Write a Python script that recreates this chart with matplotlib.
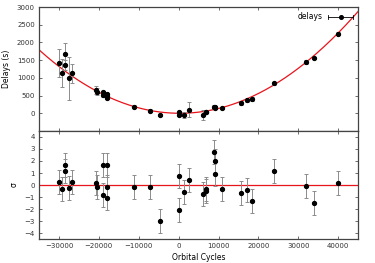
import numpy as np
import matplotlib
matplotlib.use('Agg')
import matplotlib.pyplot as plt
from matplotlib.lines import Line2D
from matplotlib.legend_handler import HandlerBase

# orbital cycle of each timing
cycles = [-30000, -29200, -28400, -28400, -27570, -26800,
          -20630, -20550, -18970, -18970, -17970, -17970, -17970,
          -11280, -7270, -4760,
          0, 0, 1450, 2700,
          6020, 6850, 6850, 8850, 9020, 9190, 10860,
          15620, 17040, 18300, 23810, 32000, 33830, 39930]
# delays (s)
delays = [1420, 1146, 1682, 1352, 986, 1127,
          648, 610, 590, 505, 540, 475, 445,
          185, 78, -55,
          25, -50, -45, 95,
          -50, 45, 50, 189, 180, 160, 150,
          300, 366, 405, 845, 1448, 1560, 2254]
delay_err = [395, 400, 300, 140, 600, 270,
             110, 100, 33, 38, 36, 30, 34,
             40, 50, 30,
             33, 24, 80, 210,
             130, 35, 35, 31, 35, 50, 32,
             58, 40, 47, 43, 55, 40, 30]
# residuals in sigma
resid = [0.25, -0.3, 1.65, 1.2, -0.22, 0.22,
         0.15, -0.15, 1.65, -0.8, 1.65, -0.2, -1.07,
         -0.2, -0.15, -3.03,
         0.75, -2.1, -0.55, 0.4,
         -0.74, -0.5, -0.35, 2.73, 2.0, 0.9, -0.33,
         -0.65, -0.45, -1.3, 1.15, -0.05, -1.52, 0.17]
resid_err = [1.0] * len(resid)

# quadratic fit: a*(E - e0)^2 + c
fit_a, fit_e0, fit_c = 1.44e-6, 300, 0.0


class HBarHandler(HandlerBase):
    # gnuplot style key sample: horizontal bar with end caps and a dot
    def create_artists(self, legend, orig, xd, yd, w, h, fs, trans):
        y = yd + h / 2
        cap = h * 0.35
        arts = [Line2D([xd, xd + w], [y, y], color='black', lw=0.6),
                Line2D([xd, xd], [y - cap, y + cap], color='black', lw=0.6),
                Line2D([xd + w, xd + w], [y - cap, y + cap], color='black', lw=0.6),
                Line2D([xd + w / 2], [y], marker='o', ms=2.6, color='black', ls='')]
        for a in arts:
            a.set_transform(trans)
        return arts


plt.rcParams['font.family'] = ['DejaVu Sans']
plt.rcParams['font.size'] = 5

fig = plt.figure(figsize=(3.75, 2.63), dpi=100)
ax1 = fig.add_axes([0.104, 0.502, 0.851, 0.471])
ax2 = fig.add_axes([0.104, 0.091, 0.851, 0.411])

ecol = '#8c8c8c'
ax1.errorbar(cycles, delays, yerr=delay_err, fmt='o', color='black', ms=2.8,
             ecolor=ecol, elinewidth=0.7, capsize=1.5, capthick=0.7, zorder=3)
ee = np.linspace(-35000, 45000, 400)
ax1.plot(ee, fit_a * (ee - fit_e0) ** 2 + fit_c, color='#e8141c', lw=0.9, zorder=2)

proxy = Line2D([], [], color='black')
ax1.legend([proxy], ['delays'], handler_map={proxy: HBarHandler()},
           loc='upper right', frameon=False, markerfirst=False,
           handlelength=3.2, borderaxespad=0.3, handletextpad=0.8, fontsize=5.5)

ax2.errorbar(cycles, resid, yerr=resid_err, fmt='o', color='black', ms=2.8,
             ecolor=ecol, elinewidth=0.7, capsize=1.5, capthick=0.7, zorder=3)
ax2.axhline(0, color='#e8141c', lw=0.9, zorder=2)

for ax in (ax1, ax2):
    ax.set_xlim(-35000, 45000)
    ax.set_xticks(range(-30000, 40001, 10000))
    ax.tick_params(direction='in', top=True, right=True, length=2.5, width=0.5,
                   labelsize=5, pad=3, colors='#333333')
    for s in ax.spines.values():
        s.set_linewidth(0.9)
        s.set_color('#444444')

ax1.set_ylim(-500, 3000)
ax1.set_yticks(range(0, 3001, 500))
ax1.tick_params(labelbottom=False)
ax1.set_ylabel('Delays (s)', fontsize=5.5, labelpad=4)

ax2.set_ylim(-4.5, 4.5)
ax2.set_yticks(range(-4, 5))
ax2.set_ylabel('σ', fontsize=5.5, labelpad=4)
ax2.set_xlabel('Orbital Cycles', fontsize=5.5, labelpad=3)

fig.savefig('out.png', dpi=100)
